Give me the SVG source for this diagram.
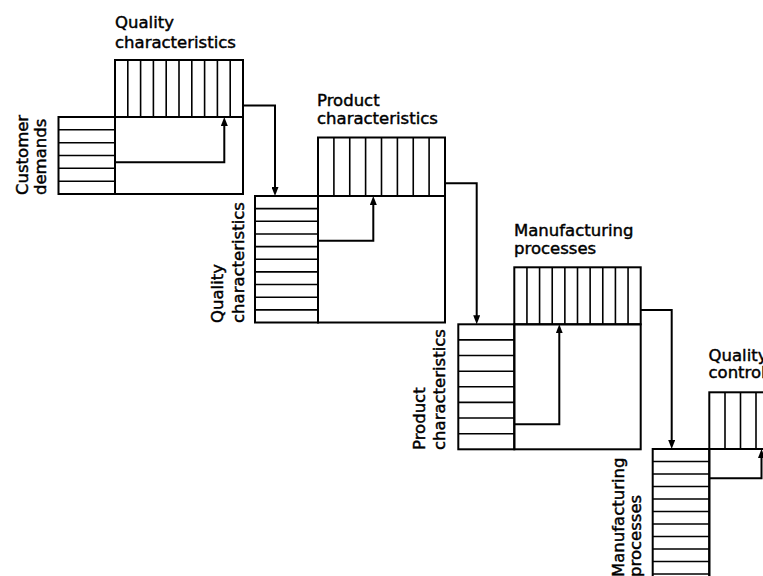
<svg xmlns="http://www.w3.org/2000/svg" width="763" height="576" viewBox="0 0 763 576">
<style>
.box{fill:none;stroke:#000;stroke-width:2}
.div{fill:none;stroke:#000;stroke-width:1.6}
.con{fill:none;stroke:#000;stroke-width:2}
.lbl{font-family:"DejaVu Sans","Liberation Sans",sans-serif;font-size:16.5px;fill:#000;stroke:#000;stroke-width:0.45}
</style>
<defs>
<marker id="ah" markerWidth="9" markerHeight="7" refX="4" refY="3.5" orient="auto" markerUnits="userSpaceOnUse">
<path d="M0,0 L9,3.5 L0,7 z" fill="#000"/>
</marker>
</defs>
<rect width="763" height="576" fill="#fff"/>

<g id="m1">
<text class="lbl" x="115" y="28">Quality</text>
<text class="lbl" x="115" y="47.5">characteristics</text>
<text class="lbl" transform="translate(27.5,195) rotate(-90)">Customer</text>
<text class="lbl" transform="translate(46,195) rotate(-90)">demands</text>
<rect class="box" x="115" y="60" width="128" height="57"/>
<path class="div" d="M127.8,60V117M140.6,60V117M153.4,60V117M166.2,60V117M179,60V117M191.8,60V117M204.6,60V117M217.4,60V117M230.2,60V117"/>
<rect class="box" x="58.5" y="117" width="56.5" height="77"/>
<path class="div" d="M58.5,129.8H115M58.5,142.7H115M58.5,155.5H115M58.5,168.3H115M58.5,181.2H115"/>
<rect class="box" x="115" y="117" width="128" height="77"/>
</g>

<g id="m2">
<text class="lbl" x="317" y="106">Product</text>
<text class="lbl" x="317" y="124">characteristics</text>
<text class="lbl" transform="translate(223,323) rotate(-90)">Quality</text>
<text class="lbl" transform="translate(243.5,323) rotate(-90)">characteristics</text>
<rect class="box" x="318" y="137.5" width="127" height="58.5"/>
<path class="div" d="M333.9,137.5V196M349.75,137.5V196M365.6,137.5V196M381.5,137.5V196M397.4,137.5V196M413.25,137.5V196M429.1,137.5V196"/>
<rect class="box" x="255" y="196" width="63" height="126.5"/>
<path class="div" d="M255,208.65H318M255,221.3H318M255,233.95H318M255,246.6H318M255,259.25H318M255,271.9H318M255,284.55H318M255,297.2H318M255,309.85H318"/>
<rect class="box" x="318" y="196" width="127" height="126.5"/>
</g>

<g id="m3">
<text class="lbl" x="514" y="236">Manufacturing</text>
<text class="lbl" x="514" y="253.5">processes</text>
<text class="lbl" transform="translate(425,450) rotate(-90)">Product</text>
<text class="lbl" transform="translate(444.5,450) rotate(-90)">characteristics</text>
<rect class="box" x="514.3" y="267.3" width="126.4" height="57"/>
<path class="div" d="M526.94,267.3V324.3M539.58,267.3V324.3M552.22,267.3V324.3M564.86,267.3V324.3M577.5,267.3V324.3M590.14,267.3V324.3M602.78,267.3V324.3M615.42,267.3V324.3M628.06,267.3V324.3"/>
<rect class="box" x="458.3" y="324.3" width="56" height="125"/>
<path class="div" d="M458.3,339.9H514.3M458.3,355.55H514.3M458.3,371.2H514.3M458.3,386.8H514.3M458.3,402.4H514.3M458.3,418.05H514.3M458.3,433.7H514.3"/>
<rect class="box" x="514.3" y="324.3" width="126.4" height="125"/>
</g>

<g id="m4">
<text class="lbl" x="708.5" y="361">Quality</text>
<text class="lbl" x="708.5" y="378">control</text>
<text class="lbl" transform="translate(624,577) rotate(-90)">Manufacturing</text>
<text class="lbl" transform="translate(641,577) rotate(-90)">processes</text>
<rect class="box" x="709.3" y="392.3" width="80" height="56.7"/>
<path class="div" d="M725,392.3V449M740.5,392.3V449M756,392.3V449"/>
<rect class="box" x="652.7" y="449" width="56.6" height="140"/>
<path class="div" d="M652.7,461.5H709.3M652.7,474H709.3M652.7,486.5H709.3M652.7,499H709.3M652.7,511.5H709.3M652.7,524H709.3M652.7,536.5H709.3M652.7,549H709.3M652.7,561.5H709.3M652.7,574H709.3"/>
<rect class="box" x="709.3" y="449" width="100" height="140"/>
</g>

<g id="connectors">
<path class="con" d="M243,105.5H275V191" marker-end="url(#ah)"/>
<path class="con" d="M445,183.3H476.7V319.3" marker-end="url(#ah)"/>
<path class="con" d="M640.7,310H671.7V444" marker-end="url(#ah)"/>
<path class="con" d="M115,162.3H224.3V122" marker-end="url(#ah)"/>
<path class="con" d="M318,240.7H373.3V201" marker-end="url(#ah)"/>
<path class="con" d="M514.3,424.3H559.3V329.3" marker-end="url(#ah)"/>
<path class="con" d="M709.3,478.3H761.5V454" marker-end="url(#ah)"/>
</g>
</svg>
